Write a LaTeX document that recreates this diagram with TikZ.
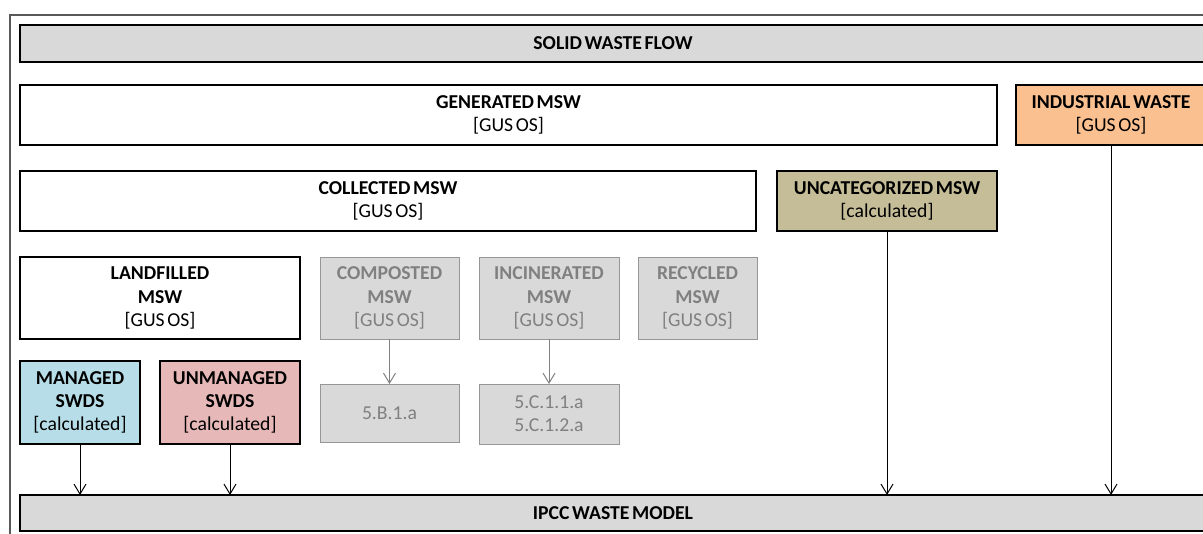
\documentclass[tikz,border=0pt]{standalone}
\usepackage{fontspec}
\setmainfont{Carlito}[WordSpace=0.6]
\usetikzlibrary{arrows.meta, positioning}
\definecolor{cinza}{RGB}{217, 217, 217}
\definecolor{cinzaTexto}{RGB}{128, 128, 128}
\definecolor{cinzaBorda}{RGB}{150, 150, 150}
\definecolor{pessego}{RGB}{250, 192, 144}
\definecolor{caqui}{RGB}{196, 189, 151}
\definecolor{azul}{RGB}{183, 222, 232}
\definecolor{rosa}{RGB}{230, 185, 184}
\definecolor{moldura}{RGB}{89, 89, 89}
\tikzset{
  caixa/.style={
    draw, line width=0.9pt, align=center, inner sep=2pt, outer sep=0pt,
    minimum height=1.5cm, font=\fontsize{14}{16.5}\selectfont
  },
  caixaFaixa/.style={caixa, fill=cinza, minimum height=0.925cm, minimum width=29.65cm},
  caixaB/.style={caixa, fill=white},
  caixaInd/.style={caixa, fill=pessego},
  caixaUnc/.style={caixa, fill=caqui},
  caixaMan/.style={caixa, fill=azul, minimum height=2.075cm},
  caixaUnm/.style={caixa, fill=rosa, minimum height=2.075cm},
  caixaOff/.style={caixa, fill=cinza, draw=cinzaBorda, text=cinzaTexto, line width=0.7pt},
  seta/.style={-{Straight Barb[length=0.25cm, width=0.3cm]}, line width=0.7pt},
  setaOff/.style={seta, cinzaTexto},
}
\begin{document}
\begin{tikzpicture}
  \useasboundingbox (0,0) rectangle (30.075,-13.325);
  \clip (0,0) rectangle (30.075,-13.325);
  \draw[moldura, line width=1pt] (0.25,-0.375) rectangle (30.6,-13.8);

  \node[caixaFaixa, anchor=north west] (flow) at (0.5,-0.625) {\textbf{SOLID WASTE FLOW}};

  \node[caixaB, minimum width=24.425cm, below right=0.575cm and 0cm of flow.south west]
    (gen) {\textbf{GENERATED MSW}\\{}[GUS OS]};
  \node[caixaInd, minimum width=4.75cm, below right=0cm and 0.475cm of gen.north east]
    (ind) {\textbf{INDUSTRIAL WASTE}\\{}[GUS OS]};

  \node[caixaB, minimum width=18.4cm, below right=0.65cm and 0cm of gen.south west]
    (col) {\textbf{COLLECTED MSW}\\{}[GUS OS]};
  \node[caixaUnc, minimum width=5.5cm, below right=0cm and 0.525cm of col.north east]
    (uncat) {\textbf{UNCATEGORIZED MSW}\\{}[calculated]};

  \node[caixaB, minimum width=7cm, minimum height=2.05cm, below right=0.65cm and 0cm of col.south west]
    (land) {\textbf{LANDFILLED}\\\textbf{MSW}\\{}[GUS OS]};
  \node[caixaOff, minimum width=3.475cm, minimum height=2.05cm, below right=0cm and 0.5cm of land.north east]
    (comp) {\textbf{COMPOSTED}\\\textbf{MSW}\\{}[GUS OS]};
  \node[caixaOff, minimum width=3.5cm, minimum height=2.05cm, below right=0cm and 0.5cm of comp.north east]
    (inc) {\textbf{INCINERATED}\\\textbf{MSW}\\{}[GUS OS]};
  \node[caixaOff, minimum width=2.975cm, minimum height=2.05cm, below right=0cm and 0.475cm of inc.north east]
    (rec) {\textbf{RECYCLED}\\\textbf{MSW}\\{}[GUS OS]};

  \node[caixaOff, minimum width=3.475cm, minimum height=1.45cm, below right=1.125cm and 0cm of comp.south west]
    (b1a) {5.B.1.a};
  \node[caixaOff, minimum width=3.5cm, below right=1.125cm and 0cm of inc.south west]
    (c1a) {5.C.1.1.a\\5.C.1.2.a};

  \node[caixaMan, minimum width=3cm, below right=0.55cm and 0cm of land.south west]
    (man) {\textbf{MANAGED}\\\textbf{SWDS}\\{}[calculated]};
  \node[caixaUnm, minimum width=3.5cm, below right=0cm and 0.5cm of man.north east]
    (unman) {\textbf{UNMANAGED}\\\textbf{SWDS}\\{}[calculated]};

  \node[caixaFaixa, minimum height=0.9cm, below right=1.275cm and 0cm of man.south west]
    (ipcc) {\textbf{IPCC WASTE MODEL}};

  \draw[setaOff] (comp) -- (b1a);
  \draw[setaOff] (inc)  -- (c1a);
  \draw[seta] (man.south)   -- (man.south |- ipcc.north);
  \draw[seta] (unman.south) -- (unman.south |- ipcc.north);
  \draw[seta] (uncat.south) -- (uncat.south |- ipcc.north);
  \draw[seta] (ind.south)   -- (ind.south |- ipcc.north);
\end{tikzpicture}
\end{document}
